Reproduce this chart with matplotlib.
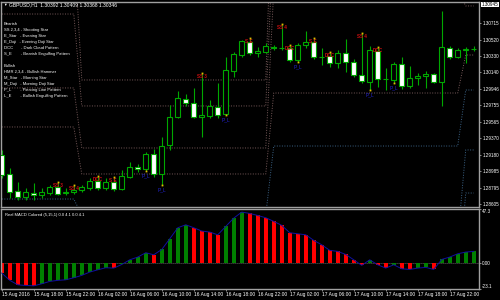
import numpy as np
import matplotlib
matplotlib.use("Agg")
import matplotlib.pyplot as plt

plt.rcParams['font.family'] = ['Liberation Sans', 'DejaVu Sans']

# --- GBPUSD H1 bars, 15 Aug 14:00 -> 18 Aug 01:00 ---
opens = [1.29176, 1.28955, 1.28757, 1.28687, 1.28733, 1.28710, 1.28733, 1.28803, 1.28733, 1.28745,
         1.28768, 1.28792, 1.28873, 1.28792, 1.28862, 1.28780, 1.28920, 1.29036, 1.29013, 1.29188,
         1.28955, 1.29293, 1.29619, 1.29829, 1.29783, 1.29619, 1.29631, 1.29736, 1.29654, 1.30156,
         1.30342, 1.30494, 1.30366, 1.30377, 1.30436, 1.30424, 1.30424, 1.30284, 1.30459, 1.30494,
         1.30319, 1.30331, 1.30249, 1.30366, 1.30261, 1.30109, 1.30028, 1.30389, 1.30062, 1.30051,
         1.30237, 1.29981, 1.30074, 1.30097, 1.30121, 1.30028, 1.30424, 1.30319, 1.30401, 1.30412]
highs = [1.29235, 1.29025, 1.28862, 1.28792, 1.28850, 1.28792, 1.28827, 1.28862, 1.28792, 1.28827,
         1.28827, 1.28908, 1.28931, 1.28908, 1.28920, 1.29001, 1.29095, 1.29071, 1.29211, 1.29246,
         1.29386, 1.29759, 1.29923, 1.29888, 1.29958, 1.30132, 1.29818, 1.30016, 1.30319, 1.30377,
         1.30517, 1.30541, 1.30436, 1.30482, 1.30459, 1.30704, 1.30459, 1.30482, 1.30622, 1.30541,
         1.30424, 1.30377, 1.30401, 1.30529, 1.30296, 1.30599, 1.30447, 1.30436, 1.30191, 1.30261,
         1.30319, 1.30214, 1.30132, 1.30156, 1.30132, 1.30855, 1.30447, 1.30424, 1.30436, 1.30447]
lows = [1.28908, 1.28675, 1.28652, 1.28652, 1.28652, 1.28675, 1.28710, 1.28710, 1.28710, 1.28722,
        1.28745, 1.28768, 1.28768, 1.28768, 1.28757, 1.28768, 1.28908, 1.28978, 1.28990, 1.28920,
        1.28827, 1.29235, 1.29608, 1.29748, 1.29608, 1.29386, 1.29608, 1.29608, 1.29643, 1.30086,
        1.30319, 1.30342, 1.30319, 1.30366, 1.30401, 1.30401, 1.30261, 1.30261, 1.30424, 1.30296,
        1.30226, 1.30202, 1.30191, 1.30144, 1.30086, 1.30016, 1.29934, 1.29969, 1.29934, 1.30016,
        1.29946, 1.29958, 1.29993, 1.29958, 1.30016, 1.29748, 1.30296, 1.30307, 1.30249, 1.30389]
closes = [1.28943, 1.28745, 1.28687, 1.28745, 1.28710, 1.28745, 1.28803, 1.28722, 1.28745, 1.28768,
          1.28803, 1.28873, 1.28792, 1.28862, 1.28780, 1.28931, 1.29036, 1.29013, 1.29188, 1.28955,
          1.29281, 1.29619, 1.29841, 1.29783, 1.29619, 1.29643, 1.29748, 1.29643, 1.30167, 1.30354,
          1.30506, 1.30366, 1.30389, 1.30447, 1.30424, 1.30420, 1.30284, 1.30459, 1.30494, 1.30319,
          1.30315, 1.30249, 1.30366, 1.30261, 1.30109, 1.30039, 1.30401, 1.30062, 1.30058, 1.30237,
          1.29981, 1.30074, 1.30097, 1.30121, 1.30028, 1.30436, 1.30319, 1.30401, 1.30412, 1.30415]

# daily pivot levels (15, 16, 17, 18 Aug) and first bar index of each day
day_first_bar = [0, 10, 34, 58]
pivot_r3 = [1.31683, 1.30051, 1.32733, 1.31916]
pivot_r2 = [1.30820, 1.29748, 1.31800, 1.31450]
pivot_r1 = [1.29958, 1.29258, 1.31100, 1.30914]
pivot_p = [1.29503, 1.28955, 1.29899, 1.30342]
pivot_s1 = [1.28663, 1.28477, 1.29281, 1.29934]
pivot_s2 = [1.28069, 1.28127, 1.28185, 1.29235]
pivot_s3 = [1.27486, 1.27661, 1.27602, 1.28733]

# pattern labels: (bar, text)
bear_marks = [(7, "SS 3"), (9, "SS 4"), (12, "DCC"), (14, "S_E"), (25, "SS 3"), (31, "S_E"),
              (35, "SS 4"), (36, "DCC"), (39, "S_E"), (41, "DCC"), (45, "SS 4"), (47, "DCC")]
bull_marks = [(18, "P_L"), (20, "P_L"), (28, "P_L"), (37, "P_L"), (46, "P_L"), (49, "P_L")]

# Real MACD Colored histogram
macd = [-9.1, -15.5, -19.4, -20.0, -20.3, -18.5, -16.4, -15.5, -15.0, -13.2,
        -11.1, -8.2, -6.2, -4.4, -4.7, -1.5, 2.6, 5.0, 8.8, 7.0,
        11.7, 21.1, 30.8, 33.4, 30.8, 27.9, 27.0, 24.6, 32.0, 39.3,
        44.6, 43.4, 41.6, 39.6, 36.4, 32.9, 26.4, 25.5, 24.6, 19.7,
        15.8, 10.9, 10.0, 7.3, 2.6, -2.3, 2.6, -1.8, -4.7, -1.8,
        -5.3, -5.9, -4.7, -4.1, -5.9, 2.9, 5.0, 7.9, 9.4, 10.0]
macd_max, macd_min = 47.3, -23.1

price_ticks = [1.28605, 1.28795, 1.28985, 1.29180, 1.29370, 1.29565,
               1.29755, 1.29946, 1.30140, 1.30330, 1.30520, 1.30715]
top_price = "1.30945"
time_labels = ["15 Aug 2016", "15 Aug 18:00", "15 Aug 22:00", "16 Aug 02:00", "16 Aug 06:00",
               "16 Aug 10:00", "16 Aug 14:00", "16 Aug 18:00", "16 Aug 22:00", "17 Aug 02:00",
               "17 Aug 06:00", "17 Aug 10:00", "17 Aug 14:00", "17 Aug 18:00", "17 Aug 22:00"]
header = "GBPUSD,H1  1.30392 1.30409 1.30368 1.30346"
macd_title = "Real MACD Colored (5,15,1) 0.0 4.1 0.0 4.1"
legend_lines = ["Bearish",
                "SS 2,3,4 - Shooting Star",
                "E_Star   - Evening Star",
                "E_Doji   - Evening Doji Star",
                "DCC       - Dark Cloud Pattern",
                "S_E        - Bearish Engulfing Pattern",
                "",
                "Bullish",
                "HMR 2,3,4 - Bullish Hammer",
                "M_Star   - Morning Star",
                "M_Doji   - Morning Doji Star",
                "P_L        - Piercing Line Pattern",
                "L_E        - Bullish Engulfing Pattern"]

GREEN = '#00a800'
GRAY = '#a0a0a0'
n = len(opens)
x = np.arange(n)
o, h, l, c = map(np.array, (opens, highs, lows, closes))

fig = plt.figure(figsize=(5, 3), dpi=100, facecolor='black')
ax = fig.add_axes([1 / 500, 1 - 207 / 300, 478 / 500, 205 / 300], facecolor='black')
ax2 = fig.add_axes([1 / 500, 1 - 289 / 300, 478 / 500, 80 / 300], facecolor='black')

for a in (ax, ax2):
    a.set_xlim(-0.1, 59.66)
    for s in a.spines.values():
        s.set_color(GRAY)
        s.set_linewidth(1.0)
    a.yaxis.tick_right()
    a.tick_params(axis='both', colors=GRAY, length=1.5, width=0.6, pad=0.8,
                  labelsize=3.3, labelcolor='white')

ax.set_ylim(1.28570, 1.30960)

# pivot lines
lengths = np.diff(day_first_bar + [n])
for levels, col in [(pivot_r3, '#7a5c5c'), (pivot_r2, '#7a5c5c'), (pivot_r1, '#7a5c5c'),
                    (pivot_p, '#7a5c5c'), (pivot_s1, '#3c6488'), (pivot_s2, '#3c6488'),
                    (pivot_s3, '#3c6488')]:
    ax.plot(x, np.repeat(levels, lengths), color=col, lw=0.7, ls=(0, (1, 1.6)), zorder=1)

# candles
ax.vlines(x, l, h, color=GREEN, lw=0.8, zorder=2)
bear = c < o
ax.bar(x, np.abs(c - o), bottom=np.minimum(o, c), width=0.62,
       color=np.where(bear, 'white', 'black'), edgecolor=GREEN, linewidth=0.8, zorder=3)

# pattern marks
for k, txt in bear_marks:
    ax.annotate(txt, (k, h[k]), xytext=(0, -2.3), textcoords='offset points', ha='center',
                va='center', color='#d01010', fontsize=3.3, fontweight='bold', zorder=5)
    ax.plot(k, h[k], marker='s', ms=1.3, color='#e0c000', mew=0, zorder=6)
for k, txt in bull_marks:
    ax.annotate(txt, (k, l[k]), xytext=(0, -3.2), textcoords='offset points', ha='center',
                va='center', color='#2424d0', fontsize=3.5, zorder=5)
    ax.plot(k, l[k], marker='s', ms=1.3, color='#e0c000', mew=0, zorder=6)

ax.set_yticks(price_ticks)
ax.set_yticklabels([f"{p:.5f}" for p in price_ticks])
ax.set_xticks([])
ax.text(1.006, 0.988, top_price, transform=ax.transAxes, ha='left', va='center', fontsize=3.3,
        color='black', bbox=dict(boxstyle='square,pad=0.1', fc='white', ec='none'), clip_on=False)

fig.text(3 / 500, 1 - 5 / 300, "\u25bc", color='white', fontsize=2.6, va='center')
fig.text(9 / 500, 1 - 5 / 300, header, color='white', fontsize=3.6, va='center')
for i, line in enumerate(legend_lines):
    fig.text(4 / 500, 1 - (24 + 6 * i) / 300, line, color='white', fontsize=3.0, va='center')

# MACD pane
vals = np.array(macd)
rising = np.diff(np.concatenate([[vals[0] + 1], vals])) > 0
ax2.bar(x, vals, width=0.55, color=np.where(rising, '#008000', '#ff0000'), zorder=2)
ax2.plot(x, vals, color='#1010a0', lw=0.7, zorder=3)
ax2.axhline(0, color='#808080', lw=0.6, ls=(0, (1, 1.4)), zorder=1)
ax2.set_ylim(macd_min, macd_max)
ax2.set_yticks([macd_max, 0, macd_min])
ax2.set_yticklabels([f"{macd_max:.1f}", "0.00", f"{macd_min:.1f}"])
tl = ax2.get_yticklabels()
tl[0].set_va('top')
tl[2].set_va('bottom')
ax2.set_xticks(x[::4])
ax2.set_xticklabels(time_labels, ha='left', fontsize=3.5)
ax2.text(0.008, 0.95, macd_title, transform=ax2.transAxes, color='white', fontsize=3.0,
         va='top', ha='left')

fig.savefig('out.png', dpi=100, facecolor='black')
